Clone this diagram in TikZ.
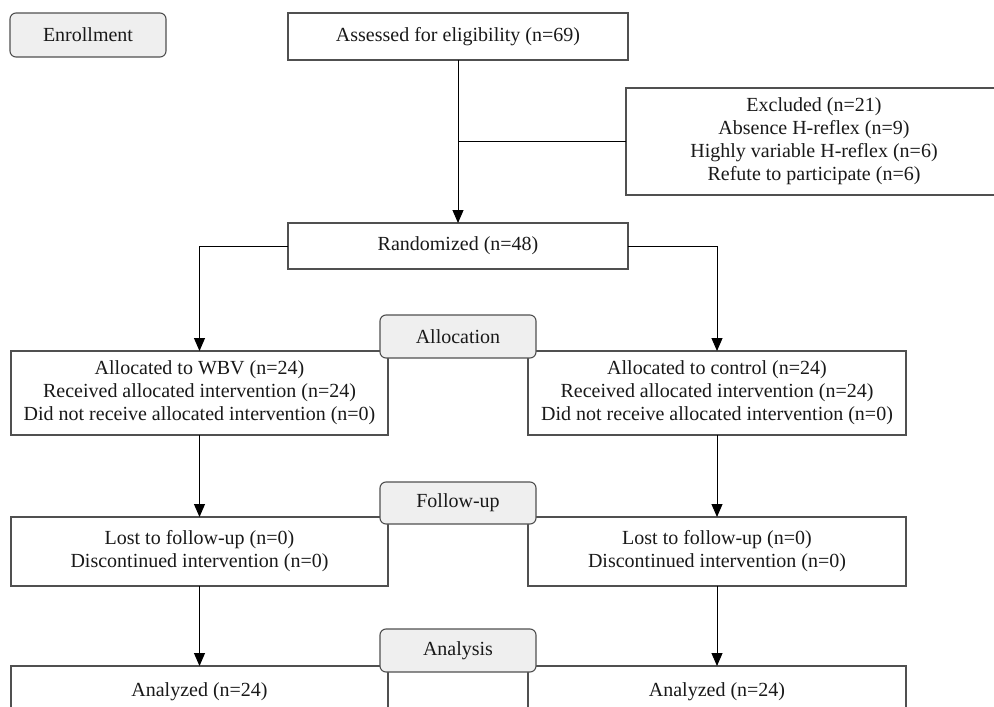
\documentclass[tikz,border=0pt]{standalone}
\usepackage{fontspec}
\setmainfont{Liberation Serif}
\usetikzlibrary{arrows.meta}
\definecolor{tagfill}{HTML}{EFEFEF}
\definecolor{edge}{HTML}{505050}
\tikzset{
  boxbase/.style={draw=edge, line width=1.1pt, inner sep=0pt, outer sep=0pt, align=center,
    font=\fontsize{20}{23}\selectfont, text=black!90, fill=white},
  stagebox/.style={boxbase, fill=tagfill, rounded corners=6pt, minimum width=156pt},
  flowbox/.style={boxbase},
  arr/.style={draw=black, line width=1pt, -{Triangle[length=13pt,width=11pt]}},
  plainline/.style={draw=black, line width=1pt}
}
\begin{document}
\begin{tikzpicture}[x=1pt,y=-1pt]
\useasboundingbox (0,0) rectangle (994,707);
\clip (0,0) rectangle (994,707);
% stage labels
\node[stagebox, minimum height=44pt] (enroll) at (88,35) {Enrollment};
% top boxes
\node[flowbox, minimum width=340pt, minimum height=47pt] (assess) at (458,36.5) {Assessed for eligibility (n=69)};
\node[flowbox, minimum width=376pt, minimum height=107pt] (excl) at (814,141.5) {Excluded (n=21)\\Absence H-reflex (n=9)\\Highly variable H-reflex (n=6)\\Refute to participate (n=6)};
\node[flowbox, minimum width=340pt, minimum height=46pt] (rand) at (458,246) {Randomized (n=48)};
% allocation
\node[flowbox, minimum width=377pt, minimum height=84pt] (allocL) at (199.5,393) {Allocated to WBV (n=24)\\Received allocated intervention (n=24)\\Did not receive allocated intervention (n=0)};
\node[flowbox, minimum width=378pt, minimum height=84pt] (allocR) at (717,393) {Allocated to control (n=24)\\Received allocated intervention (n=24)\\Did not receive allocated intervention (n=0)};
% follow-up
\node[flowbox, minimum width=377pt, minimum height=69pt] (fuL) at (199.5,551.5) {Lost to follow-up (n=0)\\Discontinued intervention (n=0)};
\node[flowbox, minimum width=378pt, minimum height=69pt] (fuR) at (717,551.5) {Lost to follow-up (n=0)\\Discontinued intervention (n=0)};
% analysis
\node[flowbox, minimum width=377pt, minimum height=52pt] (anL) at (199.5,692) {Analyzed (n=24)};
\node[flowbox, minimum width=378pt, minimum height=52pt] (anR) at (717,692) {Analyzed (n=24)};
% stage tags drawn on top
\node[stagebox, minimum height=43pt] (allocTag) at (458,336.5) {Allocation};
\node[stagebox, minimum height=42pt] (fuTag) at (458,503) {Follow-up};
\node[stagebox, minimum height=43pt] (anTag) at (458,650.5) {Analysis};
% connectors
\draw[arr] (assess.south) -- (rand.north);
\draw[plainline] (assess.south |- excl.west) -- (excl.west);
\draw[arr] (rand.west) -| (allocL.north);
\draw[arr] (rand.east) -| (allocR.north);
\draw[arr] (allocL.south) -- (fuL.north);
\draw[arr] (allocR.south) -- (fuR.north);
\draw[arr] (fuL.south) -- (anL.north);
\draw[arr] (fuR.south) -- (anR.north);
\end{tikzpicture}
\end{document}
